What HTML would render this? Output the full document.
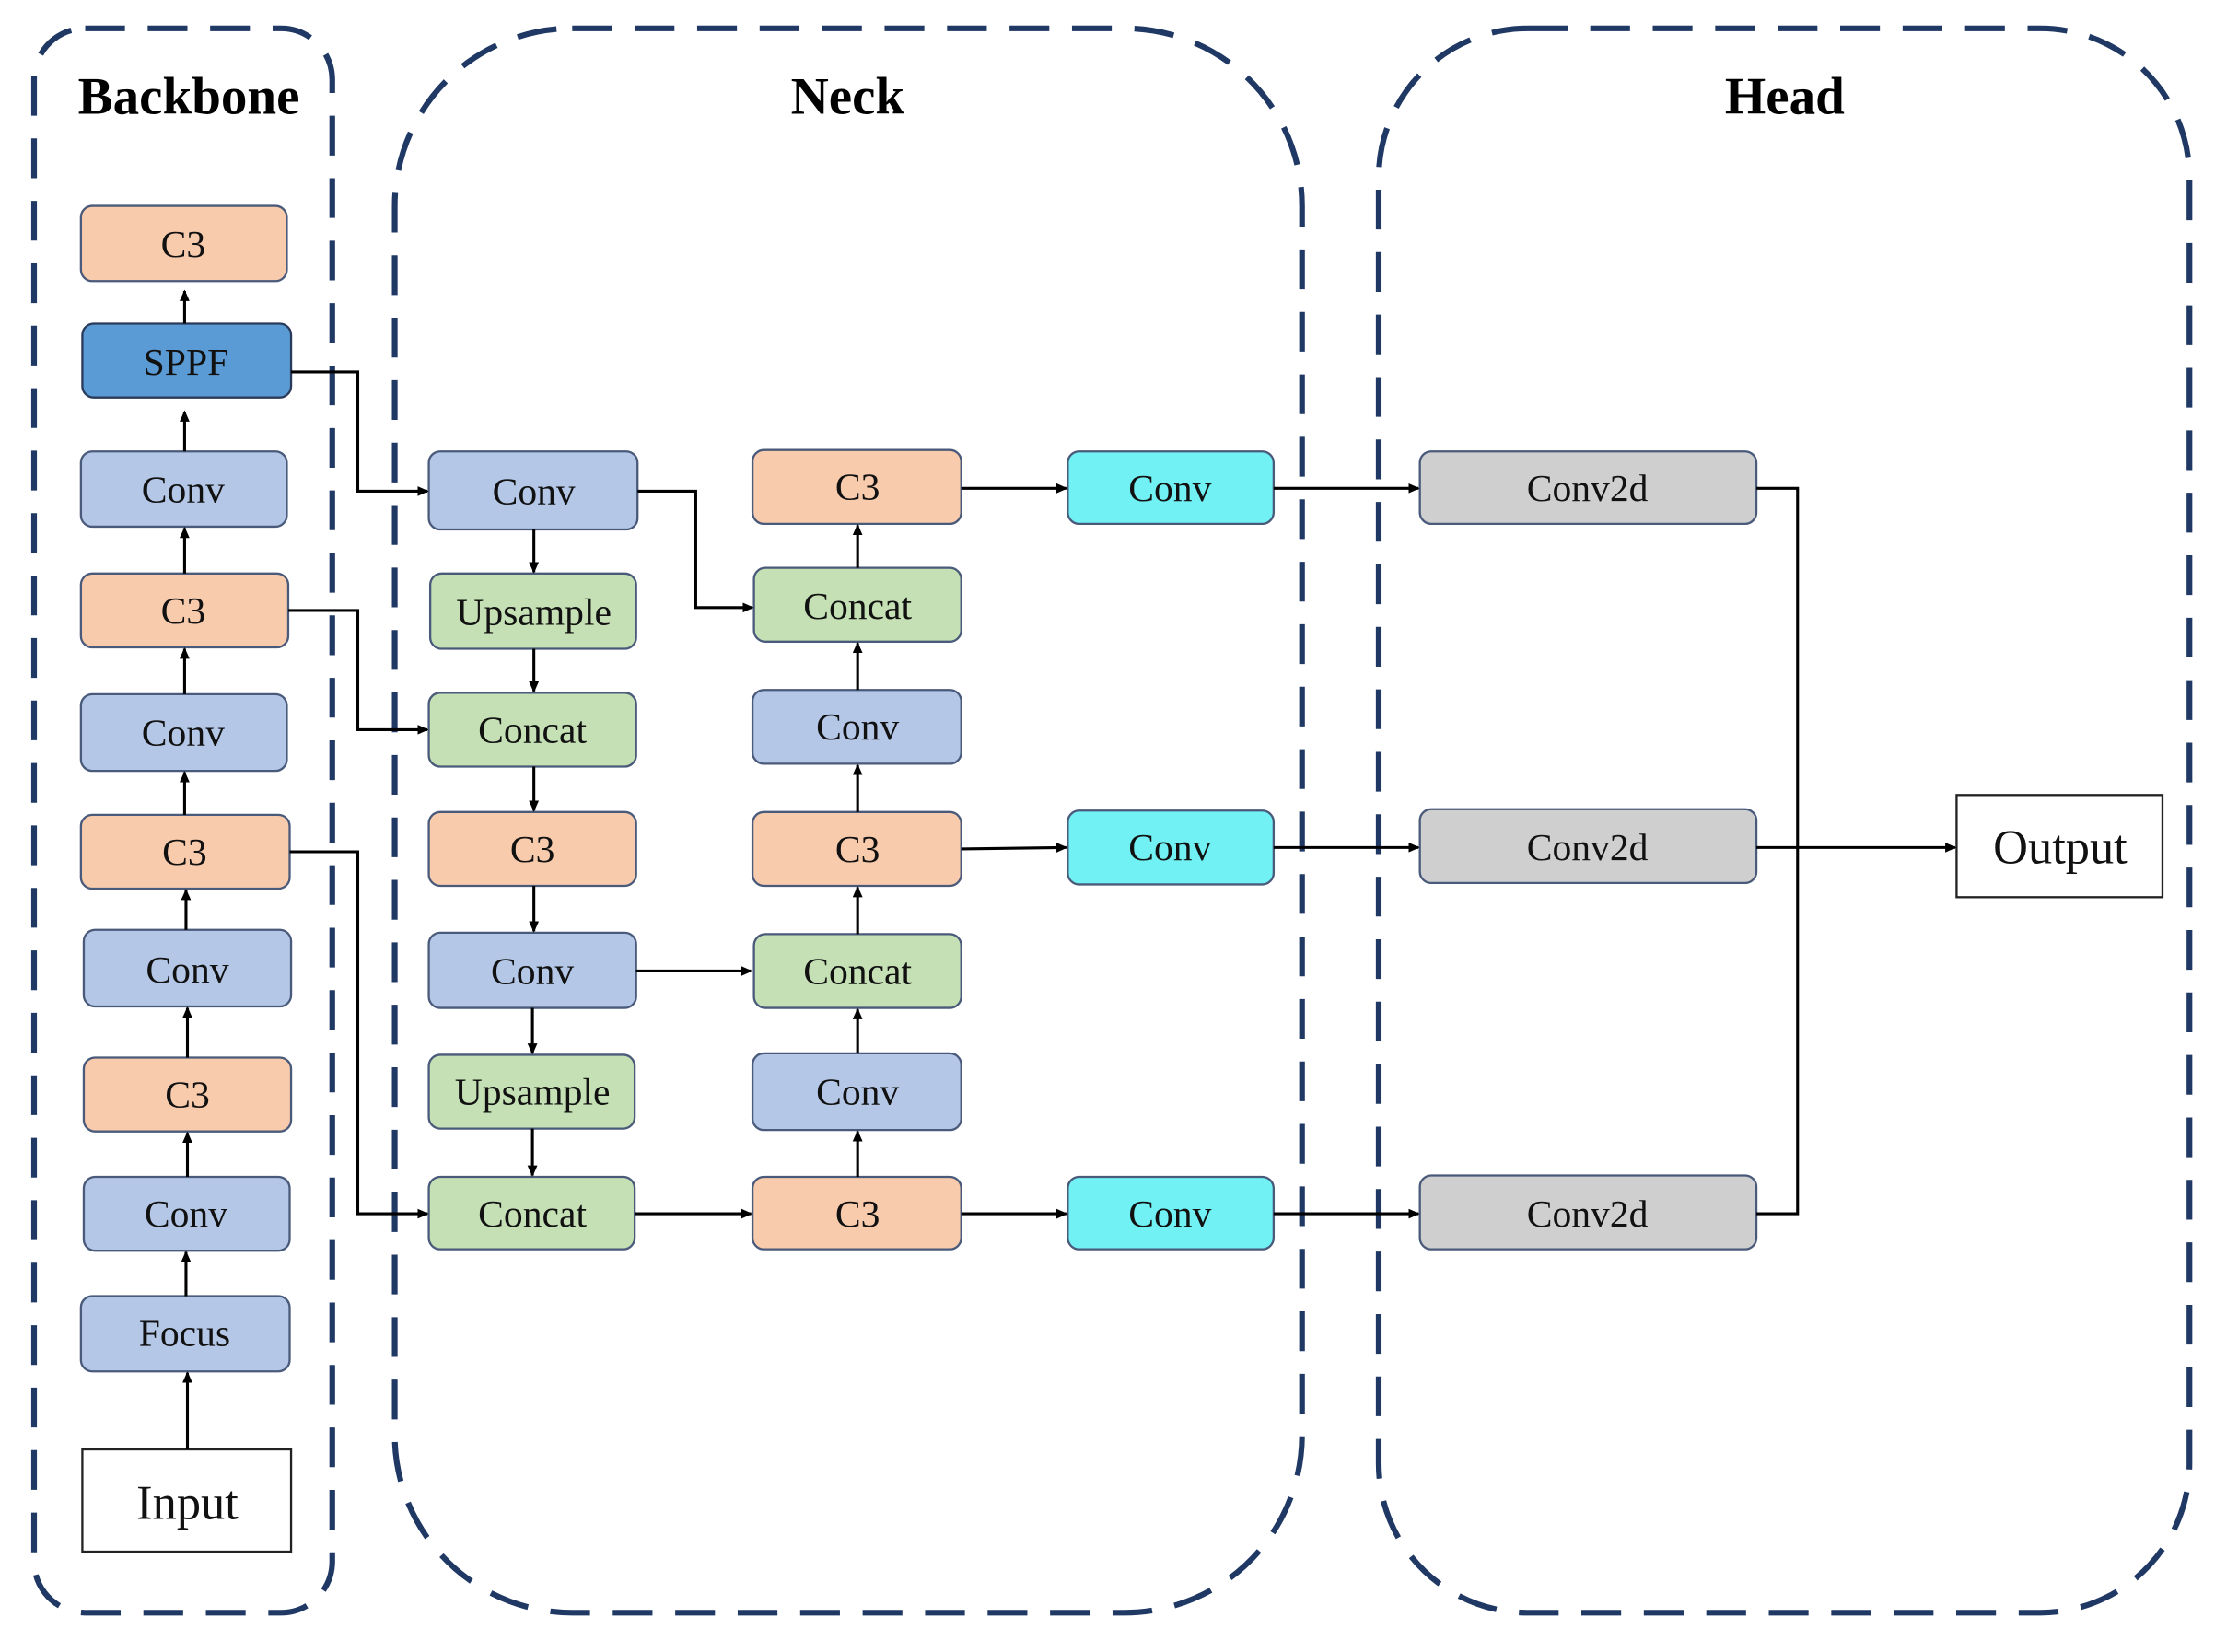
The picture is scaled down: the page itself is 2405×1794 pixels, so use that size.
<!DOCTYPE html>
<html><head><meta charset="utf-8"><style>html,body{margin:0;padding:0;background:#fff}svg{display:block}</style></head>
<body>
<svg width="2405" height="1794" viewBox="0 0 1560 1163.7" preserveAspectRatio="none" xmlns="http://www.w3.org/2000/svg">
<defs>
<marker id="a" markerWidth="8" markerHeight="8" refX="7" refY="4" orient="auto" markerUnits="userSpaceOnUse"><path d="M0,0.5 L8,4 L0,7.5 Z" fill="#000"/></marker>
</defs>
<g fill="none" stroke="#1f3864" stroke-width="4" stroke-dasharray="28 16">
<rect x="24" y="20" width="210" height="1116" rx="36"/>
<rect x="278" y="20" width="639" height="1116" rx="125"/>
<rect x="971" y="20" width="571" height="1116" rx="105"/>
</g>
<g font-family="Liberation Serif, serif" font-weight="bold" font-size="37" text-anchor="middle" fill="#000">
<text x="133" y="80">Backbone</text><text x="597" y="80">Neck</text><text x="1257" y="80">Head</text>
</g>
<g stroke="#4a5a7a" stroke-width="1.5" font-family="Liberation Serif, serif" font-size="27" text-anchor="middle">
<rect x="57" y="145" width="145" height="53" rx="8" fill="#f8cbad"/>
<rect x="58" y="228" width="147" height="52" rx="8" fill="#5b9bd5" stroke="#2a3a5a"/>
<rect x="57" y="318" width="145" height="53" rx="8" fill="#b4c7e7"/>
<rect x="57" y="404" width="146" height="52" rx="8" fill="#f8cbad"/>
<rect x="57" y="489" width="145" height="54" rx="8" fill="#b4c7e7"/>
<rect x="57" y="574" width="147" height="52" rx="8" fill="#f8cbad"/>
<rect x="59" y="655" width="146" height="54" rx="8" fill="#b4c7e7"/>
<rect x="59" y="745" width="146" height="52" rx="8" fill="#f8cbad"/>
<rect x="59" y="829" width="145" height="52" rx="8" fill="#b4c7e7"/>
<rect x="57" y="913" width="147" height="53" rx="8" fill="#b4c7e7"/>
<rect x="58" y="1021" width="147" height="72" fill="#fff" stroke="#222"/>
<rect x="302" y="318" width="147" height="55" rx="8" fill="#b4c7e7"/>
<rect x="303" y="404" width="145" height="53" rx="8" fill="#c5e0b4"/>
<rect x="302" y="488" width="146" height="52" rx="8" fill="#c5e0b4"/>
<rect x="302" y="572" width="146" height="52" rx="8" fill="#f8cbad"/>
<rect x="302" y="657" width="146" height="53" rx="8" fill="#b4c7e7"/>
<rect x="302" y="743" width="145" height="52" rx="8" fill="#c5e0b4"/>
<rect x="302" y="829" width="145" height="51" rx="8" fill="#c5e0b4"/>
<rect x="530" y="317" width="147" height="52" rx="8" fill="#f8cbad"/>
<rect x="531" y="400" width="146" height="52" rx="8" fill="#c5e0b4"/>
<rect x="530" y="486" width="147" height="52" rx="8" fill="#b4c7e7"/>
<rect x="530" y="572" width="147" height="52" rx="8" fill="#f8cbad"/>
<rect x="531" y="658" width="146" height="52" rx="8" fill="#c5e0b4"/>
<rect x="530" y="742" width="147" height="54" rx="8" fill="#b4c7e7"/>
<rect x="530" y="829" width="147" height="51" rx="8" fill="#f8cbad"/>
<rect x="752" y="318" width="145" height="51" rx="8" fill="#72f1f4"/>
<rect x="752" y="571" width="145" height="52" rx="8" fill="#72f1f4"/>
<rect x="752" y="829" width="145" height="51" rx="8" fill="#72f1f4"/>
<rect x="1000" y="318" width="237" height="51" rx="8" fill="#d0cfd0"/>
<rect x="1000" y="570" width="237" height="52" rx="8" fill="#d0cfd0"/>
<rect x="1000" y="828" width="237" height="52" rx="8" fill="#d0cfd0"/>
<rect x="1378" y="560" width="145" height="72" fill="#fff" stroke="#222"/>
<g stroke="none" fill="#111">
<text x="129" y="181">C3</text><text x="131" y="264">SPPF</text><text x="129" y="354">Conv</text>
<text x="129" y="439">C3</text><text x="129" y="525">Conv</text><text x="130" y="609">C3</text>
<text x="132" y="692">Conv</text><text x="132" y="780">C3</text><text x="131" y="864">Conv</text>
<text x="130" y="948">Focus</text><text x="132" y="1070" font-size="34">Input</text>
<text x="376" y="355">Conv</text><text x="376" y="440">Upsample</text><text x="375" y="523">Concat</text>
<text x="375" y="607">C3</text><text x="375" y="693">Conv</text><text x="375" y="778">Upsample</text>
<text x="375" y="864">Concat</text>
<text x="604" y="352">C3</text><text x="604" y="436">Concat</text><text x="604" y="521">Conv</text>
<text x="604" y="607">C3</text><text x="604" y="693">Concat</text><text x="604" y="778">Conv</text>
<text x="604" y="864">C3</text>
<text x="824" y="353">Conv</text><text x="824" y="606">Conv</text><text x="824" y="864">Conv</text>
<text x="1118" y="353">Conv2d</text><text x="1118" y="606">Conv2d</text><text x="1118" y="864">Conv2d</text>
<text x="1451" y="608" font-size="34">Output</text>
</g>
</g>
<g fill="none" stroke="#000" stroke-width="2" marker-end="url(#a)">
<path d="M130,228 V205"/><path d="M130,318 V290"/><path d="M130,404 V372"/><path d="M130,489 V457"/>
<path d="M130,574 V544"/><path d="M131,655 V627"/><path d="M132,745 V710"/><path d="M132,829 V798"/>
<path d="M131,913 V882"/><path d="M132,1021 V967"/>
<path d="M205,262 H252 V346 H301"/><path d="M203,430 H252 V514 H301"/><path d="M204,600 H252 V855 H301"/>
<path d="M449,346 H490 V428 H530"/>
<path d="M448,684 H529"/><path d="M447,855 H529"/>
<path d="M376,373 V403"/><path d="M376,457 V487"/><path d="M376,540 V571"/><path d="M376,624 V656"/>
<path d="M375,710 V742"/><path d="M375,795 V828"/>
<path d="M604,829 V797"/><path d="M604,742 V711"/><path d="M604,658 V625"/><path d="M604,572 V539"/>
<path d="M604,486 V453"/><path d="M604,400 V370"/>
<path d="M677,344 H751"/><path d="M677,598 L751,597"/><path d="M677,855 H751"/>
<path d="M897,344 H999"/><path d="M897,597 H999"/><path d="M897,855 H999"/>
<path d="M1237,597 H1377"/>
</g>
<path d="M1237,344 H1266 V855 H1237" fill="none" stroke="#000" stroke-width="2"/>
</svg>
</body></html>
